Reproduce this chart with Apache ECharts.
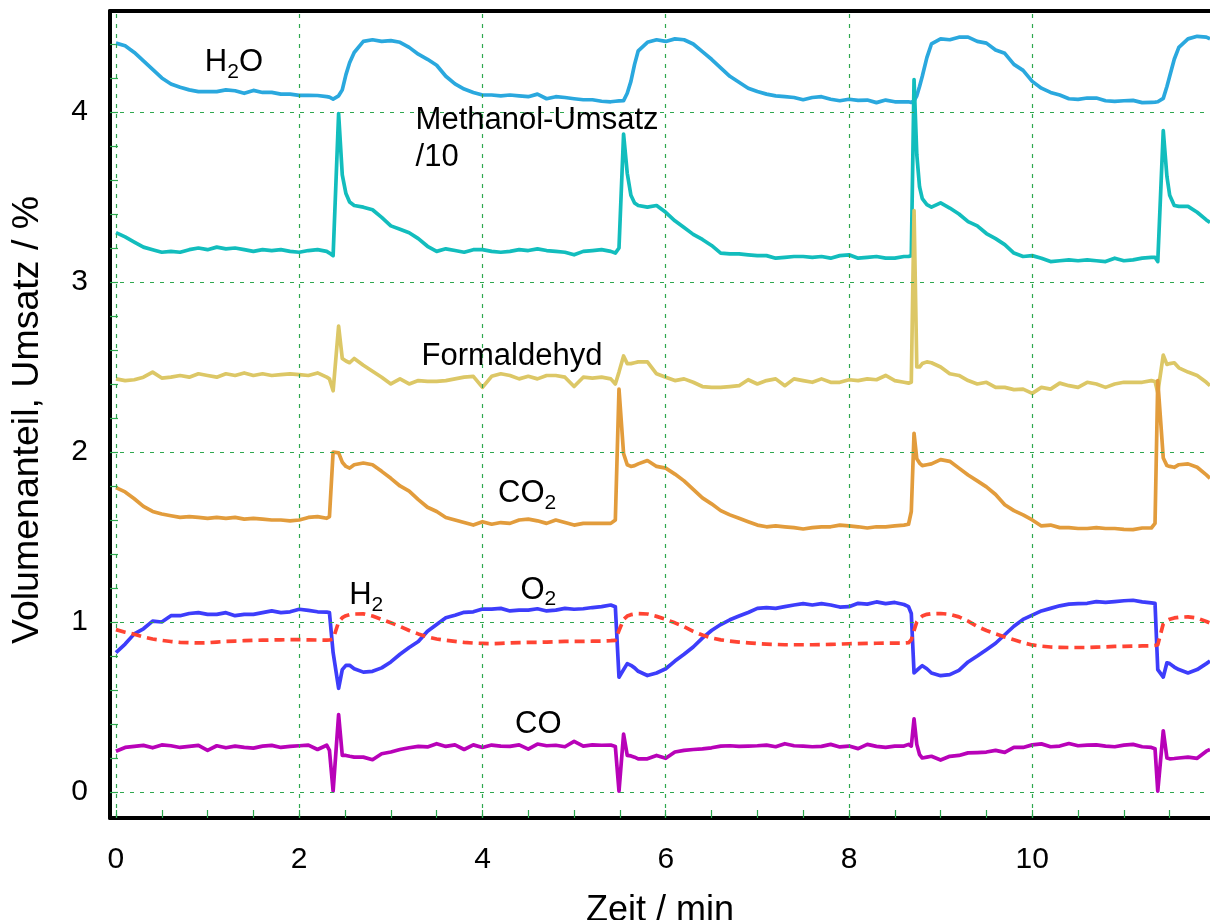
<!DOCTYPE html>
<html>
<head>
<meta charset="utf-8">
<script src="https://cdn.jsdelivr.net/npm/echarts@6/dist/echarts.min.js"></script>
<style>html,body{margin:0;padding:0;background:#fff;}#chart{width:1210px;height:920px;}</style>
</head>
<body>
<div id="chart"></div>
<script>
// ---- shared time axis (min) ----
const time = [
  0,0.1,0.2,0.3,0.4,0.5,0.6,0.7,0.8,0.9,1.0,1.1,1.2,1.3,1.4,1.5,1.6,1.7,1.8,1.9,2.0,2.1,2.2,2.3,
  2.33,2.37,2.43,2.47,2.51,2.55,2.6,
  2.7,2.8,2.9,3.0,3.1,3.2,3.3,3.4,3.5,3.6,3.7,3.8,3.9,4.0,4.1,4.2,4.3,4.4,4.5,4.6,4.7,4.8,4.9,5.0,5.1,5.2,5.3,5.4,
  5.45,5.49,5.54,5.58,5.62,5.66,5.7,
  5.8,5.9,6.0,6.1,6.2,6.3,6.4,6.5,6.6,6.7,6.8,6.9,7.0,7.1,7.2,7.3,7.4,7.5,7.6,7.7,7.8,7.9,8.0,8.1,8.2,8.3,8.4,8.5,8.6,
  8.65,8.68,8.71,8.74,8.77,8.8,8.85,8.9,
  9.0,9.1,9.2,9.3,9.4,9.5,9.6,9.7,9.8,9.9,10.0,10.1,10.2,10.3,10.4,10.5,10.6,10.7,10.8,10.9,11.0,11.1,11.2,11.3,
  11.34,11.37,11.43,11.47,11.5,11.55,11.6,
  11.7,11.8,11.9,11.94
];

const h2o = [
  4.405,4.39,4.35,4.30,4.25,4.20,4.165,4.145,4.13,4.12,4.12,4.12,4.13,4.125,4.11,4.127,4.115,4.115,4.105,4.105,4.098,4.098,4.097,4.09,
  4.087,4.076,4.095,4.13,4.22,4.29,4.35,
  4.415,4.425,4.415,4.42,4.41,4.38,4.34,4.31,4.275,4.21,4.165,4.135,4.115,4.10,4.10,4.095,4.10,4.095,4.09,4.105,4.078,4.09,4.085,4.078,4.072,4.072,4.063,4.06,
  4.063,4.065,4.067,4.11,4.18,4.28,4.36,
  4.41,4.425,4.415,4.43,4.425,4.40,4.355,4.31,4.26,4.21,4.175,4.14,4.12,4.105,4.095,4.09,4.085,4.072,4.085,4.09,4.075,4.066,4.075,4.068,4.07,4.055,4.07,4.06,4.06,
  4.06,4.056,4.065,4.095,4.15,4.21,4.32,4.40,
  4.43,4.425,4.44,4.44,4.415,4.405,4.365,4.345,4.28,4.245,4.18,4.14,4.115,4.10,4.078,4.074,4.082,4.082,4.066,4.062,4.066,4.068,4.055,4.057,
  4.058,4.06,4.08,4.15,4.21,4.31,4.38,
  4.43,4.445,4.44,4.43
];

const methanol10 = [
  3.29,3.265,3.235,3.205,3.19,3.175,3.18,3.175,3.19,3.20,3.19,3.205,3.195,3.20,3.19,3.18,3.19,3.185,3.19,3.18,3.175,3.185,3.19,3.18,
  3.17,3.155,3.99,3.63,3.52,3.47,3.45,
  3.44,3.425,3.38,3.33,3.31,3.29,3.255,3.21,3.18,3.195,3.185,3.175,3.19,3.19,3.18,3.175,3.18,3.19,3.185,3.195,3.185,3.18,3.175,3.16,3.18,3.185,3.19,3.18,
  3.17,3.20,3.87,3.64,3.51,3.465,3.45,
  3.44,3.45,3.41,3.36,3.32,3.28,3.25,3.215,3.17,3.165,3.165,3.16,3.155,3.155,3.14,3.145,3.15,3.15,3.145,3.15,3.14,3.155,3.16,3.14,3.145,3.15,3.14,3.14,3.15,
  3.15,3.155,4.19,3.75,3.56,3.49,3.455,3.44,
  3.465,3.435,3.40,3.355,3.33,3.285,3.255,3.22,3.17,3.15,3.155,3.14,3.12,3.125,3.13,3.125,3.13,3.125,3.12,3.14,3.125,3.13,3.14,3.145,
  3.145,3.12,3.89,3.62,3.51,3.45,3.445,
  3.445,3.41,3.365,3.35
];

const formaldehyd = [
  2.43,2.42,2.425,2.44,2.47,2.435,2.44,2.45,2.44,2.46,2.45,2.44,2.46,2.45,2.465,2.45,2.46,2.45,2.455,2.46,2.455,2.45,2.465,2.44,
  2.43,2.36,2.74,2.55,2.535,2.525,2.55,
  2.51,2.475,2.44,2.40,2.43,2.40,2.42,2.415,2.415,2.42,2.43,2.44,2.445,2.38,2.445,2.46,2.45,2.43,2.445,2.43,2.45,2.45,2.44,2.385,2.44,2.435,2.44,2.43,
  2.40,2.47,2.565,2.52,2.52,2.525,2.53,
  2.53,2.46,2.44,2.42,2.43,2.41,2.385,2.38,2.38,2.385,2.39,2.425,2.40,2.42,2.43,2.39,2.43,2.42,2.41,2.43,2.41,2.41,2.425,2.42,2.43,2.425,2.45,2.42,2.41,
  2.405,2.41,3.42,2.50,2.50,2.52,2.53,2.525,
  2.50,2.46,2.45,2.42,2.40,2.41,2.38,2.38,2.367,2.37,2.345,2.38,2.37,2.405,2.39,2.38,2.41,2.40,2.38,2.40,2.41,2.41,2.41,2.42,
  2.415,2.35,2.57,2.515,2.52,2.525,2.495,
  2.47,2.45,2.41,2.39
];

const co2 = [
  1.79,1.765,1.725,1.68,1.65,1.635,1.625,1.615,1.62,1.615,1.61,1.615,1.61,1.615,1.605,1.61,1.605,1.60,1.60,1.595,1.60,1.615,1.62,1.61,
  1.62,2.00,1.995,1.94,1.915,1.905,1.925,
  1.935,1.925,1.886,1.845,1.80,1.77,1.72,1.675,1.65,1.615,1.60,1.585,1.57,1.59,1.575,1.585,1.58,1.60,1.605,1.595,1.58,1.60,1.585,1.57,1.58,1.58,1.58,1.58,
  1.60,2.37,1.99,1.925,1.915,1.92,1.93,
  1.95,1.915,1.905,1.87,1.83,1.78,1.73,1.695,1.655,1.63,1.61,1.59,1.57,1.56,1.565,1.56,1.555,1.547,1.555,1.56,1.56,1.57,1.565,1.56,1.553,1.56,1.56,1.565,1.57,
  1.575,1.65,2.11,1.96,1.935,1.92,1.925,1.93,
  1.955,1.945,1.905,1.865,1.83,1.795,1.75,1.69,1.655,1.63,1.60,1.565,1.57,1.555,1.555,1.55,1.55,1.555,1.55,1.55,1.545,1.543,1.553,1.553,
  1.58,2.42,1.965,1.92,1.915,1.91,1.925,
  1.93,1.91,1.865,1.845
];

const o2 = [
  0.82,0.87,0.93,0.96,1.005,1.0,1.037,1.037,1.05,1.055,1.045,1.045,1.055,1.037,1.045,1.045,1.055,1.065,1.055,1.06,1.075,1.068,1.06,1.058,
  1.055,0.82,0.61,0.72,0.745,0.745,0.725,
  0.705,0.71,0.73,0.765,0.81,0.85,0.885,0.945,0.985,1.025,1.04,1.057,1.06,1.076,1.076,1.08,1.065,1.07,1.07,1.078,1.065,1.07,1.08,1.075,1.078,1.085,1.09,1.10,
  1.09,0.675,0.72,0.755,0.745,0.73,0.71,
  0.685,0.70,0.725,0.77,0.81,0.853,0.905,0.95,0.985,1.013,1.035,1.056,1.08,1.085,1.08,1.09,1.10,1.108,1.10,1.108,1.10,1.088,1.09,1.11,1.105,1.118,1.108,1.115,1.103,
  1.09,1.05,0.70,0.715,0.73,0.743,0.725,0.70,
  0.684,0.69,0.715,0.765,0.80,0.837,0.875,0.925,0.975,1.015,1.04,1.065,1.08,1.095,1.105,1.108,1.11,1.12,1.115,1.12,1.125,1.128,1.118,1.112,
  1.11,0.72,0.676,0.76,0.755,0.735,0.72,
  0.70,0.72,0.755,0.77
];

const h2 = [
  0.955,0.94,0.928,0.912,0.90,0.892,0.885,0.88,0.878,0.877,0.878,0.882,0.886,0.888,0.89,0.892,0.893,0.894,0.895,0.896,0.896,0.895,0.894,0.893,
  0.894,0.90,1.0,1.025,1.037,1.043,1.047,
  1.048,1.035,1.015,0.995,0.974,0.95,0.93,0.912,0.90,0.892,0.886,0.88,0.876,0.874,0.872,0.874,0.877,0.879,0.88,0.88,0.882,0.884,0.886,0.886,0.886,0.887,0.888,0.89,
  0.892,0.95,1.015,1.035,1.043,1.047,1.049,
  1.047,1.033,1.015,0.995,0.972,0.945,0.923,0.906,0.895,0.888,0.882,0.877,0.873,0.87,0.868,0.866,0.866,0.866,0.866,0.867,0.868,0.87,0.872,0.873,0.874,0.875,0.876,0.876,0.876,
  0.878,0.895,0.95,1.0,1.02,1.035,1.045,1.049,
  1.05,1.045,1.03,1.005,0.974,0.95,0.93,0.912,0.895,0.878,0.865,0.858,0.853,0.851,0.85,0.85,0.85,0.852,0.854,0.856,0.857,0.858,0.859,0.86,
  0.862,0.866,0.99,1.008,1.016,1.024,1.028,
  1.03,1.023,1.003,0.994
];

const co = [
  0.24,0.262,0.268,0.274,0.26,0.277,0.272,0.262,0.268,0.274,0.245,0.272,0.26,0.27,0.262,0.258,0.27,0.274,0.262,0.268,0.272,0.276,0.25,0.275,
  0.245,0.005,0.455,0.215,0.215,0.21,0.205,
  0.205,0.19,0.225,0.235,0.25,0.26,0.268,0.265,0.284,0.268,0.277,0.25,0.277,0.262,0.276,0.27,0.268,0.277,0.252,0.282,0.272,0.275,0.266,0.298,0.27,0.277,0.275,0.276,
  0.268,0.005,0.34,0.215,0.212,0.205,0.195,
  0.195,0.215,0.198,0.235,0.245,0.25,0.254,0.26,0.27,0.272,0.268,0.27,0.272,0.276,0.266,0.284,0.272,0.27,0.266,0.268,0.28,0.265,0.27,0.255,0.28,0.268,0.262,0.27,0.27,
  0.28,0.27,0.43,0.28,0.22,0.20,0.205,0.21,
  0.188,0.21,0.215,0.23,0.232,0.235,0.245,0.233,0.263,0.262,0.277,0.283,0.266,0.27,0.285,0.272,0.276,0.277,0.27,0.266,0.276,0.28,0.266,0.262,
  0.255,0.005,0.36,0.2,0.195,0.197,0.2,
  0.205,0.198,0.24,0.25
];

// ---- ticks ----
const xTickValues = [0, 2, 4, 6, 8, 10];
const xMinorTicks = [0,0.5,1,1.5,2,2.5,3,3.5,4,4.5,5,5.5,6,6.5,7,7.5,8,8.5,9,9.5,10,10.5,11,11.5];
const yTickValues = [0, 1, 2, 3, 4];
const yMinorTicks = [0,0.2,0.4,0.6,0.8,1,1.2,1.4,1.6,1.8,2,2.2,2.4,2.6,2.8,3,3.2,3.4,3.6,3.8,4,4.2,4.4];

// ---- annotation texts and anchors (data coords: left edge, vertical middle) ----
const annotationTexts = ['H{s|2}O', 'Methanol-Umsatz\n/10', 'Formaldehyd', 'CO{s|2}', 'H{s|2}', 'O{s|2}', 'CO'];
const annotationX = [0.97, 3.27, 3.335, 4.17, 2.545, 4.415, 4.355];
const annotationY = [4.29, 3.84, 2.56, 1.755, 1.155, 1.187, 0.40];

const FONT = "'Liberation Sans', Arial, Helvetica, sans-serif";
const GRIDC = '#2fa84f';

const zip = vals => time.map((t, i) => [t, vals[i]]);

function lineSeries(name, vals, color, dashed) {
  return {
    name, type: 'line', data: zip(vals), symbol: 'none', smooth: false,
    lineStyle: { color, width: 3.7, type: dashed ? [10, 6] : 'solid', cap: 'butt', join: 'round' },
    z: 3, silent: true, animation: false
  };
}

const chart = echarts.init(document.getElementById('chart'), null, { renderer: 'canvas' });

const option = {
  backgroundColor: '#ffffff',
  animation: false,
  textStyle: { fontFamily: FONT },
  grid: { left: 110, right: 0, top: 11, bottom: 102, containLabel: false, outerBoundsMode: 'none' },
  xAxis: [{
    type: 'value', min: -0.065, max: 11.94, position: 'bottom',
    axisLine: { show: true, onZero: false, lineStyle: { color: '#000', width: 4 } },
    axisTick: { show: true, inside: true, length: 8, customValues: xMinorTicks, lineStyle: { color: GRIDC, width: 1.2 } },
    axisLabel: { show: true, customValues: xTickValues, fontSize: 30, color: '#000', margin: 27, fontFamily: FONT },
    splitLine: { show: false },
    name: 'Zeit / min', nameLocation: 'middle', nameGap: 75,
    nameTextStyle: { fontSize: 36, color: '#000', fontFamily: FONT }
  }, {
    type: 'value', min: -0.065, max: 11.94, position: 'top',
    axisLine: { show: true, onZero: false, lineStyle: { color: '#000', width: 4 } },
    axisTick: { show: false }, axisLabel: { show: false }, splitLine: { show: false }
  }],
  yAxis: [{
    type: 'value', min: -0.153, max: 4.594, position: 'left',
    axisLine: { show: true, onZero: false, lineStyle: { color: '#000', width: 4 } },
    axisTick: { show: true, inside: true, length: 8, customValues: yMinorTicks, lineStyle: { color: GRIDC, width: 1.2 } },
    axisLabel: { show: true, customValues: yTickValues, fontSize: 30, color: '#000', margin: 22, fontFamily: FONT },
    splitLine: { show: false },
    name: 'Volumenanteil, Umsatz / %', nameLocation: 'middle', nameGap: 63,
    nameTextStyle: { fontSize: 37.5, color: '#000', fontFamily: FONT, padding: [0, 11, 0, 0] }
  }],
  series: [
    {
      name: 'gridlines', type: 'line', data: [[0, -1]], symbol: 'none', silent: true, z: 1,
      lineStyle: { width: 0 },
      markLine: {
        silent: true, symbol: ['none', 'none'], animation: false,
        label: { show: false },
        lineStyle: { color: GRIDC, type: [4, 6], width: 1.2 },
        emphasis: { disabled: true },
        data: [
          ...xTickValues.map(v => ({ xAxis: v })),
          ...yTickValues.map(v => ({ yAxis: v }))
        ]
      }
    },
    lineSeries('H2O', h2o, '#2aa8de'),
    lineSeries('Methanol-Umsatz/10', methanol10, '#12bdbd'),
    lineSeries('Formaldehyd', formaldehyd, '#dcc766'),
    lineSeries('CO2', co2, '#e29c3c'),
    lineSeries('O2', o2, '#3d3dfb'),
    lineSeries('H2', h2, '#ff4433', true),
    lineSeries('CO', co, '#b802b8'),
    {
      name: 'labels', type: 'scatter', symbol: 'circle', symbolSize: 0, z: 10, silent: true,
      itemStyle: { color: '#000', opacity: 1 },
      data: annotationTexts.map((txt, i) => ({
        value: [annotationX[i], annotationY[i]],
        label: { formatter: txt, color: '#000', lineHeight: txt.indexOf('\n') >= 0 ? 37 : 40 }
      })),
      label: {
        show: true, position: [0, 0], align: 'left', verticalAlign: 'middle',
        fontSize: 31, color: '#000', opacity: 1, fontFamily: FONT, lineHeight: 40,
        textBorderWidth: 0,
        rich: { s: { fontSize: 21, lineHeight: 21, verticalAlign: 'bottom', color: '#000', fontFamily: FONT } }
      }
    }
  ]
};

chart.setOption(option);
</script>
</body>
</html>
